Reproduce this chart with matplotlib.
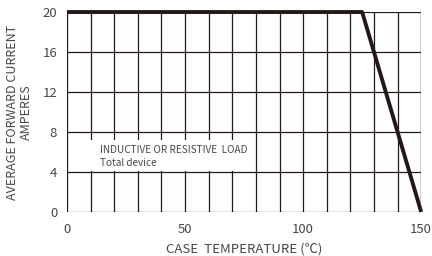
import matplotlib
matplotlib.use("Agg")
import matplotlib.pyplot as plt
from matplotlib.patches import Rectangle

plt.rcParams['font.family'] = ['Noto Sans CJK SC', 'DejaVu Sans']

# derating curve
temp = [0, 125, 150]
current = [20, 20, 0]

xticks = [0, 50, 100, 150]
yticks = [0, 4, 8, 12, 16, 20]
xgrid = list(range(0, 151, 10))
ygrid = [0, 4, 8, 12, 16, 20]

txt_col = '#474747'
line_col = '#231815'

fig = plt.figure(figsize=(4.32, 2.56), dpi=100)
ax = fig.add_axes([0.155, 0.172, 0.82, 0.781])

for x in xgrid:
    ax.axvline(x, color=line_col, lw=0.9, zorder=1)
for y in ygrid:
    ax.axhline(y, color=line_col, lw=0.9, zorder=1)
ax.axvline(150, color='#888888', lw=1.0, zorder=1.5)

# white box behind the note
ax.add_patch(Rectangle((9.6, 4.1), 69.8, 3.1, facecolor='white', edgecolor='none', zorder=2))
ax.text(14.2, 6.2, 'INDUCTIVE OR RESISTIVE  LOAD', fontsize=7.2, color=txt_col, va='center', zorder=3)
ax.text(14.2, 4.9, 'Total device', fontsize=7.2, color=txt_col, va='center', zorder=3)

ax.plot(temp, current, color=line_col, lw=2.8, solid_capstyle='butt', zorder=4, clip_on=False)

ax.set_xlim(0, 150)
ax.set_ylim(0, 20)
ax.set_xticks(xticks)
ax.set_yticks(yticks)
ax.tick_params(length=0, labelsize=9.5, labelcolor=txt_col, pad=7)
ax.tick_params(axis='x', pad=8)
for s in ax.spines.values():
    s.set_visible(False)

ax.set_xlabel('CASE  TEMPERATURE (℃)', fontsize=9.5, color=txt_col, labelpad=5)
ax.set_ylabel('AVERAGE FORWARD CURRENT\nAMPERES', fontsize=9, color=txt_col,
              linespacing=1.05, labelpad=7)

fig.savefig('out.png', dpi=100)
